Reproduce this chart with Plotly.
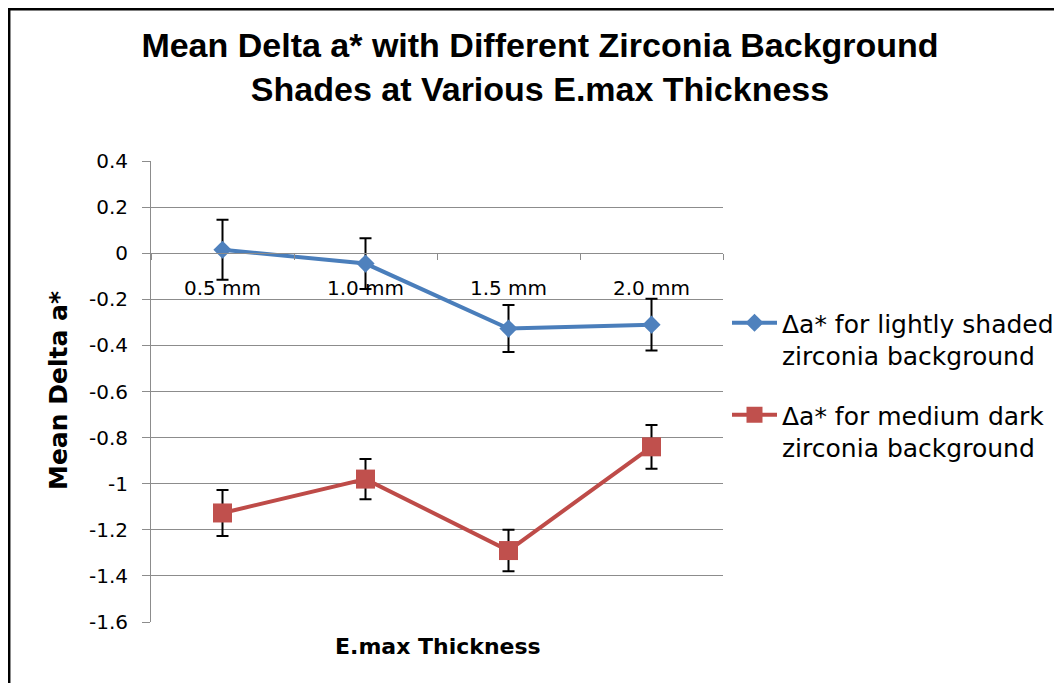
import plotly.graph_objects as go

# ---------------- data ----------------
categories = ["0.5 mm", "1.0 mm", "1.5 mm", "2.0 mm"]
light_mean = [0.015, -0.045, -0.327, -0.310]
light_err = [0.130, 0.110, 0.102, 0.112]
dark_mean = [-1.127, -0.980, -1.290, -0.840]
dark_err = [0.100, 0.087, 0.090, 0.095]
light_name = "Δa* for lightly shaded<br>zirconia background"
dark_name = "Δa* for medium dark<br>zirconia background"
y_tick_vals = [0.4, 0.2, 0, -0.2, -0.4, -0.6, -0.8, -1.0, -1.2, -1.4, -1.6]
y_tick_labels = ["0.4", "0.2", "0", "-0.2", "-0.4", "-0.6", "-0.8", "-1", "-1.2", "-1.4", "-1.6"]

# ---------------- layout geometry ----------------
# the page body has an 8px margin, so the figure is drawn 8px right/down
OFF = 8
W, H = 1054, 675
PL, PR, PT, PB = 151, 723, 161, 622          # plot area in page pixels
L, T = PL - OFF, PT - OFF
R, B = W - (PR - OFF), H - (PB - OFF)
PW, PH = PR - PL, PB - PT


def px(x):
    return (x - PL) / PW


def py(y):
    return (PB - y) / PH


BLUE_LINE = "#4A7EBB"
BLUE_MARK = "#4F81BD"
RED_LINE = "#BE4B48"
RED_MARK = "#C0504D"
GRID = "#8C8C8C"
FONT = "DejaVu Sans"

fig = go.Figure()
fig.add_trace(go.Scatter(
    x=categories, y=light_mean, name=light_name, mode="lines+markers",
    line=dict(color=BLUE_LINE, width=4),
    marker=dict(symbol="diamond", size=14, color=BLUE_MARK),
    error_y=dict(type="data", array=light_err, visible=True, color="black", thickness=2, width=6),
    legend="legend",
))
fig.add_trace(go.Scatter(
    x=categories, y=dark_mean, name=dark_name, mode="lines+markers",
    line=dict(color=RED_LINE, width=4),
    marker=dict(symbol="square", size=19, color=RED_MARK),
    error_y=dict(type="data", array=dark_err, visible=True, color="black", thickness=2, width=6),
    legend="legend2",
))

y_lo, y_hi = -1.6, 0.4
fig.update_layout(
    width=W, height=H,
    margin=dict(l=L, r=R, t=T, b=B, autoexpand=False),
    paper_bgcolor="white", plot_bgcolor="white",
    font=dict(family=FONT, size=20, color="black"),
    title=dict(
        text="Mean Delta a* with Different Zirconia Background<br>Shades at Various E.max Thickness",
        font=dict(family="Liberation Sans", size=34, color="black", weight="bold"),
        x=px(540), xref="paper", xanchor="center",
        y=1 - (57 - OFF) / H, yref="container", yanchor="middle",
    ),
    xaxis=dict(
        type="category", range=[-0.5, len(categories) - 0.5],
        anchor="free", position=(0 - y_lo) / (y_hi - y_lo),
        showline=True, linecolor=GRID, linewidth=1,
        ticks="outside", ticklen=6, tickcolor=GRID, tickson="boundaries",
        showgrid=False, zeroline=False,
        tickfont=dict(family=FONT, size=20, color="black"),
        ticklabelstandoff=17,
    ),
    yaxis=dict(
        range=[y_lo, y_hi], tickvals=y_tick_vals, ticktext=y_tick_labels,
        showgrid=True, gridcolor=GRID, gridwidth=1,
        showline=True, linecolor=GRID, linewidth=1,
        ticks="outside", ticklen=8, tickcolor=GRID,
        zeroline=False,
        tickfont=dict(family=FONT, size=20, color="black"),
        ticklabelstandoff=10,
    ),
    legend=dict(
        x=px(727), y=py(300), xanchor="left", yanchor="top",
        font=dict(family=FONT, size=25, color="black"),
        bgcolor="rgba(0,0,0,0)", valign="top", itemwidth=45,
    ),
    legend2=dict(
        x=px(727), y=py(392), xanchor="left", yanchor="top",
        font=dict(family=FONT, size=25, color="black"),
        bgcolor="rgba(0,0,0,0)", valign="top", itemwidth=45,
    ),
    showlegend=True,
)

fig.add_annotation(
    text="<b>Mean Delta a*</b>", textangle=-90, showarrow=False,
    xref="paper", yref="paper", x=px(58), y=py(391), xanchor="center", yanchor="middle",
    font=dict(family=FONT, size=25, color="black"),
)
fig.add_annotation(
    text="<b>E.max Thickness</b>", showarrow=False,
    xref="paper", yref="paper", x=px(438), y=py(646), xanchor="center", yanchor="middle",
    font=dict(family=FONT, size=22, color="black"),
)

# chart frame: only the left and top edges fall inside the picture
fx, fy = px(OFF + 1.2), py(OFF + 1.2)
fx_end, fy_end = px(1100), py(720)
fig.add_shape(
    type="path", xref="paper", yref="paper",
    path=f"M {fx},{fy_end} L {fx},{fy} L {fx_end},{fy}",
    line=dict(color="black", width=2.5), layer="above",
)

fig.write_html("out.html")
